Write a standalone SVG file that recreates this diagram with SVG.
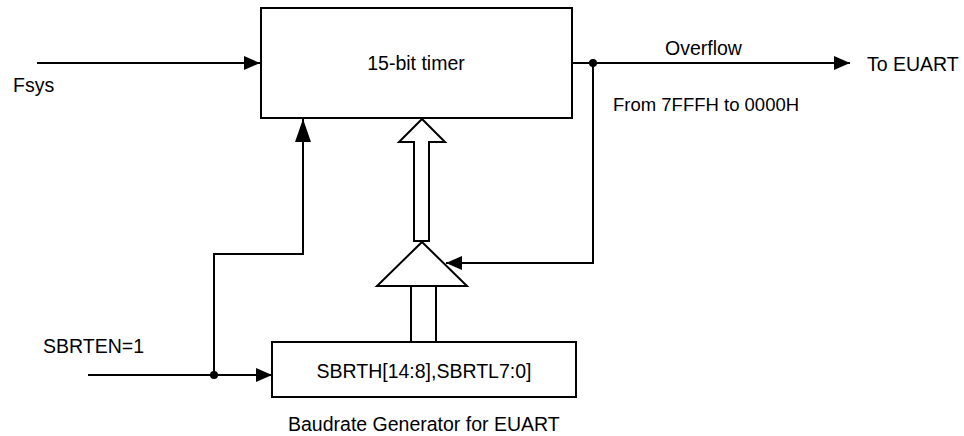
<svg xmlns="http://www.w3.org/2000/svg" width="964" height="436" viewBox="0 0 964 436">
<style>
text{font-family:"Liberation Sans",Arial,sans-serif;font-size:19.5px;fill:#000}
.box{fill:#fff;stroke:#000;stroke-width:2}
.ln{fill:none;stroke:#000;stroke-width:2}
</style>
<defs>
<marker id="ah" markerUnits="userSpaceOnUse" markerWidth="16" markerHeight="14" refX="16" refY="7" orient="auto"><path d="M0,0 L16,7 L0,14 z" fill="#000"/></marker>
<marker id="ahv" markerUnits="userSpaceOnUse" markerWidth="23" markerHeight="16" refX="23" refY="8" orient="auto"><path d="M0,0 L23,8 L0,16 z" fill="#000"/></marker>
</defs>
<g id="connectors">
<path class="ln" d="M37,63 H260" marker-end="url(#ah)"/>
<path class="ln" d="M572,63 H850" marker-end="url(#ah)"/>
<path class="ln" d="M593,63 V263 H446" marker-end="url(#ah)"/>
<path class="ln" d="M88,375 H272" marker-end="url(#ah)"/>
<path class="ln" d="M214,375 V254 H303 V119" marker-end="url(#ahv)"/>
<path class="ln" d="M411,286 V342 M436,286 V342"/>
<circle cx="593" cy="63" r="4" fill="#000"/>
<circle cx="214" cy="375" r="4" fill="#000"/>
</g>
<g id="timer">
<rect class="box" x="261" y="8" width="311" height="110"/>
<text x="416" y="70" text-anchor="middle">15-bit timer</text>
</g>
<g id="bus-arrow">
<polygon class="box" stroke-width="1.5" points="422,119 445,142 429,142 429,241 414,241 414,142 399,142"/>
</g>
<g id="comparator">
<polygon class="box" points="422,242 467,286 377,286"/>
</g>
<g id="reload">
<rect class="box" x="272" y="342" width="304" height="55"/>
<text x="424" y="378" text-anchor="middle">SBRTH[14:8],SBRTL7:0]</text>
</g>
<g id="labels">
<text x="13" y="92">Fsys</text>
<text x="665" y="55">Overflow</text>
<text x="867" y="71">To EUART</text>
<text x="613" y="111" style="font-size:18.5px">From 7FFFH to 0000H</text>
<text x="43" y="353">SBRTEN=1</text>
<text x="288" y="431">Baudrate Generator for EUART</text>
</g>
</svg>
